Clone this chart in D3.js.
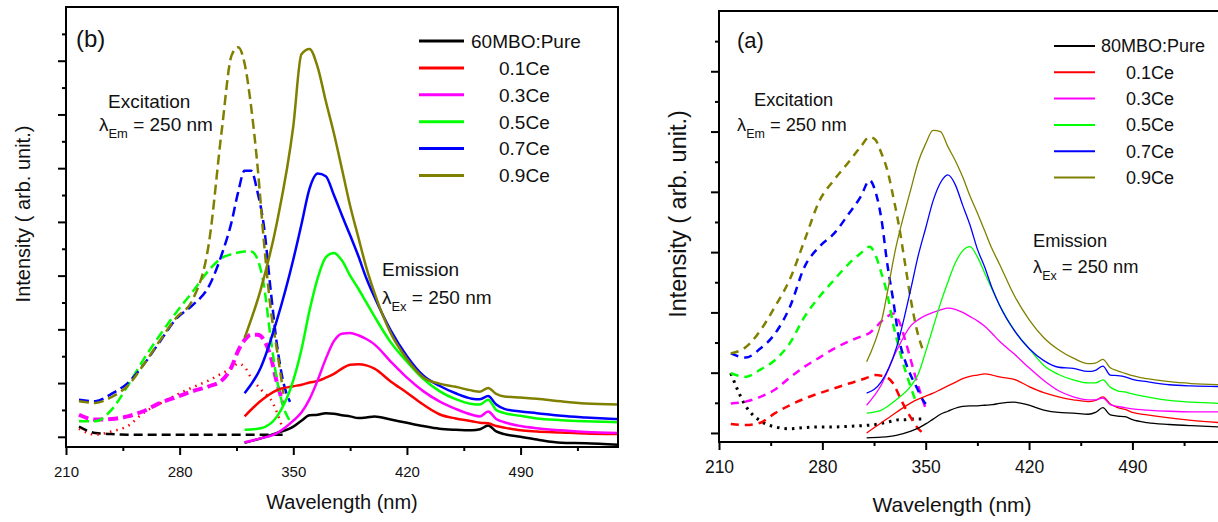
<!DOCTYPE html>
<html>
<head>
<meta charset="utf-8">
<script src="https://cdn.jsdelivr.net/npm/d3@7"></script>
<style>
  body { margin: 0; background: #fff; }
  svg { display: block; font-family: "Liberation Sans", Arial, sans-serif; }
</style>
</head>
<body>
<svg id="chart" width="1218" height="522"></svg>
<script>
// Series shared by both panels
var seriesNames = ["Pure", "0.1Ce", "0.3Ce", "0.5Ce", "0.7Ce", "0.9Ce"];
var seriesColors = ["#000000", "#ff0000", "#ff00ff", "#00ff00", "#0000ff", "#808000"];

var xDomain = [210, 550];
var xTicks = [210, 280, 350, 420, 490];
var xMinorTicks = [245, 315, 385, 455, 525];

// ---- panel (b): 60MBO ----
var exWlB = [218, 228, 238, 248, 258, 268, 278, 288, 298, 306, 312, 316, 320, 324, 328, 332, 336, 340, 344, 348];
var exPureB = [0.19, 0.07, 0.05, 0.04, 0.04, 0.04, 0.04, 0.04, 0.04, 0.04, 0.04, 0.04, 0.04, 0.04, 0.04, 0.04, 0.04, 0.04, 0.04, null];
var ex01B = [0.15, 0.04, 0.10, 0.20, 0.45, 0.62, 0.78, 0.92, 1.05, 1.18, 1.28, 1.36, 1.30, 1.10, 0.95, 0.82, 0.70, 0.45, 0.10, null];
var ex03B = [0.41, 0.32, 0.33, 0.38, 0.48, 0.63, 0.74, 0.85, 0.94, 1.05, 1.30, 1.60, 1.80, 1.90, 1.90, 1.80, 1.50, 1.00, 0.60, null];
var ex05B = [0.29, 0.29, 0.50, 0.95, 1.45, 1.90, 2.32, 2.70, 3.10, 3.33, 3.40, 3.43, 3.45, 3.45, 3.30, 2.80, 1.85, 1.05, 0.55, 0.29];
var ex07B = [0.69, 0.66, 0.80, 1.00, 1.35, 1.78, 2.20, 2.45, 2.80, 3.40, 4.00, 4.55, 4.95, 4.95, 4.55, 3.90, 2.75, 1.70, 1.00, 0.65];
var ex09B = [0.66, 0.63, 0.74, 0.95, 1.35, 1.80, 2.22, 2.55, 3.60, 5.72, 7.10, 7.25, 6.95, 6.15, 5.03, 3.60, 2.40, 1.60, 0.80, null];

var emWlB = [320, 330, 340, 350, 355, 360, 365, 370, 375, 380, 385, 390, 395, 400, 410, 420, 430, 440, 450, 460, 465, 470, 475, 480, 490, 500, 515, 530, 550];
var emPureB = [-0.11, -0.03, 0.07, 0.19, 0.30, 0.40, 0.41, 0.44, 0.43, 0.40, 0.38, 0.35, 0.36, 0.38, 0.32, 0.26, 0.20, 0.15, 0.13, 0.12, 0.14, 0.21, 0.10, 0.05, 0.00, -0.05, -0.11, -0.12, -0.15];
var em01B = [0.38, 0.67, 0.87, 0.94, 0.97, 1.01, 1.04, 1.10, 1.17, 1.27, 1.34, 1.35, 1.33, 1.27, 1.03, 0.82, 0.60, 0.42, 0.34, 0.29, 0.26, 0.25, 0.20, 0.17, 0.12, 0.10, 0.08, 0.06, 0.05];
var em03B = [-0.10, -0.03, 0.07, 0.30, 0.45, 0.70, 1.05, 1.45, 1.78, 1.92, 1.93, 1.89, 1.82, 1.72, 1.40, 1.10, 0.85, 0.66, 0.52, 0.41, 0.38, 0.47, 0.33, 0.27, 0.20, 0.16, 0.12, 0.09, 0.07];
var em05B = [0.13, 0.16, 0.38, 1.05, 1.62, 2.35, 2.95, 3.34, 3.42, 3.28, 3.00, 2.76, 2.50, 2.24, 1.76, 1.40, 1.08, 0.85, 0.70, 0.61, 0.60, 0.69, 0.50, 0.44, 0.39, 0.34, 0.31, 0.29, 0.27];
var em07B = [0.81, 1.29, 2.18, 3.30, 3.95, 4.62, 4.90, 4.85, 4.50, 4.12, 3.75, 3.37, 2.95, 2.60, 1.98, 1.50, 1.14, 0.95, 0.81, 0.71, 0.70, 0.76, 0.60, 0.52, 0.47, 0.44, 0.39, 0.36, 0.33];
var em09B = [1.84, 2.75, 4.00, 5.78, 7.12, 7.22, 6.88, 6.25, 5.65, 4.98, 4.30, 3.72, 3.15, 2.68, 1.93, 1.45, 1.11, 0.99, 0.93, 0.86, 0.84, 0.91, 0.80, 0.75, 0.73, 0.71, 0.66, 0.62, 0.60];

// ---- panel (a): 80MBO ----
var exWlA = [218, 228, 238, 248, 258, 268, 278, 288, 298, 306, 312, 316, 320, 324, 328, 332, 336, 340, 344, 348, 350];
var exPureA = [0.99, 0.45, 0.20, 0.10, 0.07, 0.09, 0.10, 0.10, 0.11, 0.12, 0.13, 0.14, 0.16, 0.18, 0.20, 0.22, 0.22, 0.23, 0.23, 0.23, null];
var ex01A = [0.15, 0.13, 0.17, 0.33, 0.46, 0.57, 0.66, 0.74, 0.82, 0.88, 0.93, 0.96, 0.95, 0.92, 0.82, 0.62, 0.42, 0.25, 0.10, 0.00, null];
var ex03A = [0.49, 0.52, 0.60, 0.72, 0.92, 1.10, 1.25, 1.40, 1.52, 1.60, 1.66, 1.75, 1.85, 1.93, 1.98, 1.85, 1.55, 1.20, 0.85, 0.55, 0.40];
var ex05A = [0.99, 0.93, 1.05, 1.21, 1.49, 1.93, 2.26, 2.54, 2.81, 2.98, 3.09, 2.95, 2.65, 2.30, 1.80, 1.40, 1.05, 0.75, 0.48, null, null];
var ex07A = [1.32, 1.25, 1.40, 1.65, 2.09, 2.76, 3.09, 3.31, 3.64, 3.92, 4.19, 4.00, 3.55, 2.80, 2.20, 1.55, 1.20, 0.95, 0.75, 0.55, 0.48];
var ex09A = [1.32, 1.42, 1.70, 2.10, 2.55, 3.20, 3.85, 4.20, 4.50, 4.75, 4.91, 4.86, 4.64, 4.36, 3.92, 3.42, 2.81, 2.20, 1.71, 1.38, null];

var emWlA = [310, 320, 330, 340, 345, 350, 355, 360, 365, 370, 375, 380, 385, 390, 395, 400, 410, 420, 430, 440, 450, 460, 465, 470, 475, 480, 485, 490, 500, 515, 530, 550];
var emPureA = [-0.08, -0.07, -0.04, 0.03, 0.08, 0.15, 0.23, 0.31, 0.36, 0.41, 0.44, 0.45, 0.45, 0.46, 0.47, 0.49, 0.51, 0.46, 0.38, 0.34, 0.33, 0.31, 0.34, 0.42, 0.30, 0.28, 0.27, 0.22, 0.17, 0.14, 0.12, 0.10];
var em01A = [0.00, 0.17, 0.34, 0.50, 0.56, 0.61, 0.66, 0.72, 0.78, 0.84, 0.90, 0.94, 0.96, 0.98, 0.96, 0.93, 0.89, 0.77, 0.67, 0.60, 0.55, 0.52, 0.54, 0.60, 0.48, 0.42, 0.39, 0.34, 0.30, 0.25, 0.21, 0.17];
var em03A = [0.46, 0.80, 1.35, 1.78, 1.88, 1.95, 2.00, 2.04, 2.07, 2.05, 2.00, 1.93, 1.86, 1.77, 1.65, 1.52, 1.31, 1.08, 0.87, 0.70, 0.60, 0.55, 0.55, 0.58, 0.47, 0.44, 0.42, 0.40, 0.38, 0.36, 0.35, 0.35];
var em05A = [0.33, 0.38, 0.55, 0.78, 0.98, 1.35, 1.75, 2.15, 2.50, 2.82, 3.02, 3.09, 2.92, 2.65, 2.38, 2.12, 1.70, 1.40, 1.12, 0.97, 0.88, 0.83, 0.83, 0.88, 0.76, 0.70, 0.68, 0.65, 0.60, 0.54, 0.51, 0.49];
var em07A = [0.66, 0.85, 1.40, 2.40, 2.95, 3.40, 3.85, 4.15, 4.28, 4.12, 3.78, 3.45, 3.05, 2.75, 2.40, 2.12, 1.70, 1.40, 1.20, 1.09, 1.07, 1.02, 1.04, 1.11, 0.96, 0.95, 0.93, 0.89, 0.85, 0.80, 0.78, 0.77];
var em09A = [1.18, 1.85, 3.10, 4.05, 4.50, 4.80, 5.02, 5.00, 4.75, 4.52, 4.25, 3.93, 3.65, 3.35, 3.05, 2.80, 2.28, 1.88, 1.58, 1.38, 1.24, 1.15, 1.16, 1.22, 1.08, 1.03, 0.99, 0.95, 0.90, 0.85, 0.82, 0.80];

var svg = d3.select("#chart");
svg.append("rect").attr("width", 1218).attr("height", 522).attr("fill", "#fff");

// zip a wavelength array with a value array into [x, y] points
function zipSeries(wl, vals) {
  return wl.map(function(w, i) { return [w, vals[i]]; });
}

// Adds "λ" + subscript + " = 250 nm" text
function lambdaText(g, x, y, sub, size) {
  var t = g.append("text").attr("x", x).attr("y", y).attr("font-size", size).attr("fill", "#111");
  t.append("tspan").text("λ");
  t.append("tspan").attr("dy", size * 0.36).attr("font-size", size * 0.68).text(sub);
  t.append("tspan").attr("dy", -size * 0.36).text(" = 250 nm");
}

function drawPanel(p) {
  var g = svg.append("g");
  var x = d3.scaleLinear().domain(xDomain).range([p.left, p.right]);
  var y = d3.scaleLinear().domain(p.yDomain).range([p.bottom, p.top]);

  var clipId = "clip-" + p.id;
  svg.append("clipPath").attr("id", clipId)
    .append("rect")
      .attr("x", p.left).attr("y", p.top)
      .attr("width", p.right - p.left).attr("height", p.bottom - p.top);

  var line = d3.line()
    .defined(function(d) { return d[1] !== null; })
    .x(function(d) { return x(d[0]); })
    .y(function(d) { return y(d[1]); })
    .curve(d3.curveMonotoneX);

  var plot = g.append("g").attr("clip-path", "url(#" + clipId + ")");

  // excitation (dashed)
  p.ex.forEach(function(vals, i) {
    plot.append("path")
      .datum(zipSeries(p.exWl, vals))
      .attr("fill", "none")
      .attr("stroke", seriesColors[i])
      .attr("stroke-width", p.exWidth[i])
      .attr("stroke-dasharray", p.exDash[i])
      .attr("d", line);
  });

  // emission (solid)
  p.em.forEach(function(vals, i) {
    plot.append("path")
      .datum(zipSeries(p.emWl, vals))
      .attr("fill", "none")
      .attr("stroke", seriesColors[i])
      .attr("stroke-width", p.emWidth)
      .attr("stroke-linejoin", "round")
      .attr("d", line);
  });

  // x axis, major and minor ticks
  var xAxis = g.append("g")
    .attr("transform", "translate(0," + p.bottom + ")")
    .call(d3.axisBottom(x).tickValues(xTicks).tickSize(8).tickSizeOuter(0).tickPadding(11));
  xAxis.attr("font-family", null);
  xAxis.selectAll("text").attr("font-size", p.tickFont).attr("fill", "#111");
  g.append("g")
    .attr("transform", "translate(0," + p.bottom + ")")
    .call(d3.axisBottom(x).tickValues(xMinorTicks).tickSize(4).tickSizeOuter(0).tickFormat(""));

  // y axis, no labels
  g.append("g")
    .attr("transform", "translate(" + p.left + ",0)")
    .call(d3.axisLeft(y).tickValues(p.yMajor).tickSize(8).tickSizeOuter(0).tickFormat(""));
  g.append("g")
    .attr("transform", "translate(" + p.left + ",0)")
    .call(d3.axisLeft(y).tickValues(p.yMajor.map(function(v) { return v + 0.5; })).tickSize(4).tickSizeOuter(0).tickFormat(""));

  g.selectAll(".domain").remove();
  g.selectAll(".tick line").attr("stroke", "#000").attr("stroke-width", 2);

  // frame
  g.append("rect")
    .attr("x", p.left).attr("y", p.top)
    .attr("width", p.right - p.left).attr("height", p.bottom - p.top)
    .attr("fill", "none").attr("stroke", "#000").attr("stroke-width", 2);

  // axis titles
  g.append("text")
    .attr("x", p.xTitlePos[0]).attr("y", p.xTitlePos[1])
    .attr("text-anchor", "middle").attr("font-size", p.xTitleFont).attr("fill", "#111")
    .text("Wavelength (nm)");
  g.append("text")
    .attr("transform", "translate(" + p.yTitlePos[0] + "," + p.yTitlePos[1] + ") rotate(-90)")
    .attr("text-anchor", "middle").attr("font-size", p.yTitleFont).attr("fill", "#111")
    .text("Intensity ( arb. unit.)");

  // panel letter and annotations
  g.append("text").attr("x", p.letterPos[0]).attr("y", p.letterPos[1])
    .attr("font-size", p.letterFont).attr("fill", "#111").text(p.letter);
  g.append("text").attr("x", p.excPos[0]).attr("y", p.excPos[1])
    .attr("font-size", p.noteFont).attr("fill", "#111").text("Excitation");
  lambdaText(g, p.exLambdaPos[0], p.exLambdaPos[1], "Em", p.noteFont);
  g.append("text").attr("x", p.emPos[0]).attr("y", p.emPos[1])
    .attr("font-size", p.noteFont).attr("fill", "#111").text("Emission");
  lambdaText(g, p.emLambdaPos[0], p.emLambdaPos[1], "Ex", p.noteFont);

  // legend
  var lg = g.append("g");
  seriesNames.forEach(function(name, i) {
    var ly = p.legend.y + i * p.legend.step;
    lg.append("line")
      .attr("x1", p.legend.x1).attr("x2", p.legend.x2)
      .attr("y1", ly).attr("y2", ly)
      .attr("stroke", seriesColors[i]).attr("stroke-width", p.legend.width);
    lg.append("text")
      .attr("x", i === 0 ? p.legend.tx0 : p.legend.tx)
      .attr("y", ly + p.legend.font * 0.36)
      .attr("font-size", p.legend.font).attr("fill", "#111")
      .text(i === 0 ? p.pureLabel : name);
  });
}

drawPanel({
  id: "b", letter: "(b)", pureLabel: "60MBO:Pure",
  left: 66, right: 618, top: 7, bottom: 447,
  yDomain: [-0.19, 8.0], yMajor: [0, 1, 2, 3, 4, 5, 6, 7],
  exWl: exWlB, ex: [exPureB, ex01B, ex03B, ex05B, ex07B, ex09B],
  exWidth: [2.5, 2.5, 4, 2.5, 2.5, 2.5],
  exDash: ["9,5", "1.5,5", "10,5", "10,5", "10,5", "10,5"],
  emWl: emWlB, em: [emPureB, em01B, em03B, em05B, em07B, em09B], emWidth: 2.5,
  tickFont: 15, xTitleFont: 20, yTitleFont: 20,
  xTitlePos: [342, 509], yTitlePos: [30, 214],
  letterFont: 24, letterPos: [76, 47],
  noteFont: 19, excPos: [108, 108], exLambdaPos: [99, 131], emPos: [382, 276], emLambdaPos: [382, 304],
  legend: { x1: 419, x2: 464, y: 41, step: 26.9, width: 3, tx0: 471, tx: 499, font: 19 }
});

drawPanel({
  id: "a", letter: "(a)", pureLabel: "80MBO:Pure",
  left: 719, right: 1221, top: 11, bottom: 442,
  yDomain: [-0.15, 7.0], yMajor: [0, 1, 2, 3, 4, 5, 6],
  exWl: exWlA, ex: [exPureA, ex01A, ex03A, ex05A, ex07A, ex09A],
  exWidth: [3, 2.5, 2.5, 2.5, 2.5, 2.5],
  exDash: ["2.5,5", "8,6", "8,6", "8,6", "8,6", "8,6"],
  emWl: emWlA, em: [emPureA, em01A, em03A, em05A, em07A, em09A], emWidth: 1.3,
  tickFont: 17.5, xTitleFont: 21, yTitleFont: 23.5,
  xTitlePos: [952, 512], yTitlePos: [686, 214],
  letterFont: 22, letterPos: [737, 48],
  noteFont: 18.3, excPos: [754, 106], exLambdaPos: [737, 131], emPos: [1033, 247], emLambdaPos: [1033, 273],
  legend: { x1: 1054, x2: 1095, y: 46, step: 26.3, width: 2, tx0: 1101, tx: 1126, font: 18 }
});
</script>
</body>
</html>
